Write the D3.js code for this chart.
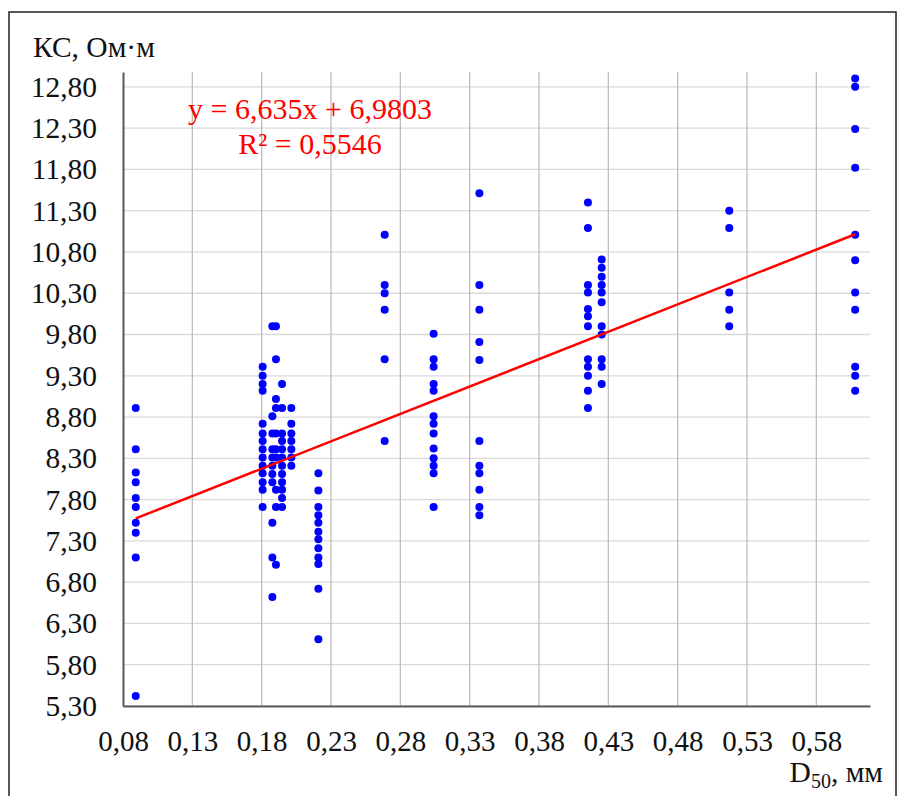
<!DOCTYPE html>
<html>
<head>
<meta charset="utf-8">
<script src="https://cdn.jsdelivr.net/npm/d3@7"></script>
<style>
  body { margin: 0; background: #fff; }
  svg text { font-family: "Liberation Serif", "Times New Roman", serif; }
</style>
</head>
<body>
<svg id="chart" width="897" height="796"></svg>
<script>
// scatter of KS vs D50, one x per column of points
const colX = [0.0892, 0.1807, 0.1877, 0.1903, 0.1947, 0.2014, 0.2209, 0.2687, 0.304, 0.337, 0.4153, 0.4252, 0.5172, 0.608];
const colY = [
  [8.91, 8.41, 8.13, 8.01, 7.82, 7.71, 7.52, 7.40, 7.10, 5.42],
  [9.41, 9.30, 9.20, 9.12, 8.72, 8.60, 8.51, 8.41, 8.31, 8.21, 8.12, 8.01, 7.92, 7.71],
  [9.90, 8.81, 8.60, 8.41, 8.31, 8.21, 8.11, 8.01, 7.52, 7.10, 6.62],
  [9.90, 9.50, 9.02, 8.91, 8.60, 8.41, 8.31, 7.92, 7.71, 7.01],
  [9.20, 8.91, 8.60, 8.51, 8.41, 8.31, 8.21, 8.11, 8.01, 7.92, 7.82, 7.71],
  [8.91, 8.72, 8.60, 8.51, 8.41, 8.31, 8.21],
  [8.12, 7.91, 7.71, 7.61, 7.52, 7.41, 7.32, 7.21, 7.10, 7.02, 6.72, 6.11],
  [11.01, 10.40, 10.30, 10.10, 9.50, 8.51],
  [9.81, 9.50, 9.41, 9.20, 9.12, 8.81, 8.72, 8.60, 8.42, 8.30, 8.21, 8.12, 7.71],
  [11.51, 10.40, 10.10, 9.71, 9.49, 8.51, 8.21, 8.12, 7.92, 7.71, 7.61],
  [11.40, 11.09, 10.40, 10.31, 10.11, 10.02, 9.90, 9.50, 9.41, 9.30, 9.12, 8.91],
  [10.71, 10.61, 10.50, 10.40, 10.31, 10.19, 9.90, 9.80, 9.50, 9.41, 9.20],
  [11.30, 11.09, 10.31, 10.10, 9.90],
  [12.90, 12.80, 12.29, 11.82, 11.01, 10.70, 10.31, 10.10, 9.41, 9.30, 9.12]
];
const xTicks = [0.08, 0.13, 0.18, 0.23, 0.28, 0.33, 0.38, 0.43, 0.48, 0.53, 0.58];
const yTicks = [5.3, 5.8, 6.3, 6.8, 7.3, 7.8, 8.3, 8.8, 9.3, 9.8, 10.3, 10.8, 11.3, 11.8, 12.3, 12.8];
const slope = 6.635, intercept = 6.9803;
const eqLines = ["y = 6,635x + 6,9803", "R² = 0,5546"];

const points = colX.flatMap((x, i) => colY[i].map(y => ({ x, y })));

const svg = d3.select("#chart");
const pLeft = 123, pRight = 870, pTop = 72, pBottom = 706;
const x = d3.scaleLinear().domain([0.08, 0.6187]).range([pLeft, pRight]);
const y = d3.scaleLinear().domain([5.3, 12.98]).range([pBottom, pTop]);
const fmt = v => d3.format(".2f")(v).replace(".", ",");

// outer frame
svg.append("rect")
  .attr("x", 9).attr("y", 12).attr("width", 887).attr("height", 800)
  .attr("fill", "none").attr("stroke", "#222").attr("stroke-width", 1.5);

// horizontal grid
svg.append("g").selectAll("line")
  .data(yTicks).enter().append("line")
  .attr("x1", pLeft).attr("x2", pRight)
  .attr("y1", d => y(d)).attr("y2", d => y(d))
  .attr("stroke", "#d9d9d9").attr("stroke-width", 1.3);

// vertical grid
svg.append("g").selectAll("line")
  .data(xTicks.slice(1)).enter().append("line")
  .attr("x1", d => x(d)).attr("x2", d => x(d))
  .attr("y1", pTop).attr("y2", pBottom)
  .attr("stroke", "#bdbdbd").attr("stroke-width", 1.3);

// axes
const yAxis = svg.append("g")
  .attr("transform", `translate(${pLeft},0)`)
  .call(d3.axisLeft(y).tickValues(yTicks).tickFormat(fmt).tickSize(0).tickPadding(26));
yAxis.select(".domain").attr("stroke", "#595959").attr("stroke-width", 2);
yAxis.selectAll("text")
  .attr("font-size", 29.5).attr("fill", "#111")
  .style("font-family", "'Liberation Serif', serif");

const xAxis = svg.append("g")
  .attr("transform", `translate(0,${pBottom})`)
  .call(d3.axisBottom(x).tickValues(xTicks).tickFormat(fmt).tickSize(0).tickPadding(24));
xAxis.select(".domain").attr("stroke", "#595959").attr("stroke-width", 2);
xAxis.selectAll("text")
  .attr("font-size", 29).attr("fill", "#111")
  .style("font-family", "'Liberation Serif', serif");

// axis titles
svg.append("text")
  .attr("x", 33).attr("y", 57)
  .attr("font-size", 29.5).attr("fill", "#111")
  .text("КС, Ом·м");

const xt = svg.append("text")
  .attr("x", 883).attr("y", 782)
  .attr("text-anchor", "end")
  .attr("font-size", 29.5).attr("fill", "#111");
xt.append("tspan").text("D");
xt.append("tspan").attr("dy", 6).attr("font-size", 20).text("50");
xt.append("tspan").attr("dy", -6).text(", мм");

// points
svg.append("g").selectAll("circle")
  .data(points).enter().append("circle")
  .attr("cx", d => x(d.x)).attr("cy", d => y(d.y))
  .attr("r", 4).attr("fill", "#0000ff");

// trend line
const xExt = d3.extent(colX);
svg.append("line")
  .attr("x1", x(xExt[0])).attr("y1", y(slope * xExt[0] + intercept))
  .attr("x2", x(xExt[1])).attr("y2", y(slope * xExt[1] + intercept))
  .attr("stroke", "#ff0000").attr("stroke-width", 2.5);

// equation
svg.append("g").selectAll("text")
  .data(eqLines).enter().append("text")
  .attr("x", 310).attr("y", (d, i) => 119 + i * 35)
  .attr("text-anchor", "middle")
  .attr("font-size", 30).attr("fill", "#ff0000")
  .text(d => d);
</script>
</body>
</html>
